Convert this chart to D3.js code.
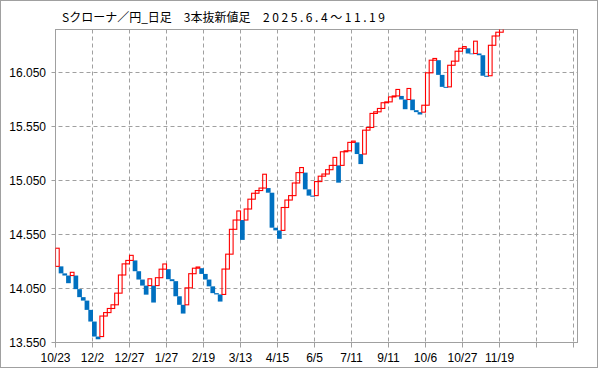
<!DOCTYPE html>
<html>
<head>
<meta charset="utf-8">
<script src="https://cdn.jsdelivr.net/npm/d3@7"></script>
<style>
  body { margin: 0; background: #fff; }
  text { font-family: "Liberation Sans", Arial, sans-serif; }
</style>
</head>
<body>
<svg id="chart"></svg>
<script>
// Title and axis labels
const chartTitle = "Sクローナ／円_日足　3本抜新値足";
const chartPeriod = "2025.6.4〜11.19";
const yTicks = [13.55, 14.05, 14.55, 15.05, 15.55, 16.05];
const xLabels = ["10/23", "12/2", "12/27", "1/27", "2/19", "3/13", "4/15",
                 "6/5", "7/11", "9/11", "10/6", "10/27", "11/19"];

// Three line break: open of the very first brick, then the close of each brick
const firstOpen = 14.255;
const closes = [
  14.423, 14.19, 14.17, 14.099, 14.20, 14.044, 13.97, 13.938, 13.852, 13.744,
  13.605, 13.58, 13.795, 13.827, 13.865, 13.899, 14.007, 14.175, 14.278, 14.31,
  14.357, 14.21, 14.133, 14.077, 13.993, 14.14, 13.92, 14.15, 14.229, 14.277,
  14.136, 14.118, 13.978, 13.899, 13.818, 14.056, 14.187, 14.238, 14.249, 14.185,
  14.133, 14.07, 14.007, 13.995, 13.929, 14.23, 14.368, 14.598, 14.684, 14.768,
  14.50, 14.786, 14.877, 14.932, 14.957, 14.98, 15.108, 14.937, 14.613, 14.588,
  14.51, 14.80, 14.869, 14.91, 15.027, 15.123, 15.17, 14.968, 14.91, 14.90,
  15.04, 15.09, 15.11, 15.15, 15.19, 15.264, 15.03, 15.316, 15.325, 15.403,
  15.415, 15.295, 15.202, 15.516, 15.541, 15.671, 15.686, 15.717, 15.77, 15.778,
  15.824, 15.833, 15.893, 15.80, 15.71, 15.902, 15.701, 15.683, 15.661, 15.747,
  16.047, 16.164, 16.18, 16.028, 15.917, 15.908, 16.117, 16.155, 16.247, 16.274,
  16.29, 16.226, 16.219, 16.34, 16.21, 16.02, 16.01, 16.302, 16.388, 16.423,
  16.457
];

const width = 599, height = 369;
const plot = { left: 55.5, right: 577.5, top: 29.5, bottom: 342.5 };
const bricksPerLabel = 10;
const gridCount = 14;

// Build bricks: a new brick starts at the top of the previous one going up,
// or at its bottom going down
const bricks = [];
closes.forEach((c, i) => {
  let open = firstOpen;
  if (i > 0) {
    const p = bricks[i - 1];
    const pTop = Math.max(p.open, p.close), pBot = Math.min(p.open, p.close);
    open = c > pTop ? pTop : pBot;
  }
  bricks.push({ i: i, open: open, close: c, up: c > open });
});

const svg = d3.select("#chart")
  .attr("width", width)
  .attr("height", height);

// outer frame
svg.append("rect")
  .attr("x", 0.5).attr("y", 0.5)
  .attr("width", width - 2).attr("height", height - 2)
  .attr("fill", "#fff")
  .attr("stroke", "#a0a0a0");

const xScale = d3.scaleLinear()
  .domain([0, gridCount * bricksPerLabel])
  .range([plot.left, plot.left + 37 * gridCount]);

const yScale = d3.scaleLinear()
  .domain([13.55, 16.45])
  .range([342.5, 29.3]);

// gridlines
const gridX = d3.range(0, gridCount * bricksPerLabel + 1, bricksPerLabel);
svg.append("g")
  .selectAll("line")
  .data(gridX.slice(1))
  .enter().append("line")
  .attr("x1", d => xScale(d)).attr("x2", d => xScale(d))
  .attr("y1", plot.top).attr("y2", plot.bottom)
  .attr("stroke", "#a0a0a0")
  .attr("stroke-dasharray", "4,3");

svg.append("g")
  .selectAll("line")
  .data(yTicks.slice(1))
  .enter().append("line")
  .attr("x1", plot.left - 4).attr("x2", plot.right)
  .attr("y1", d => yScale(d)).attr("y2", d => yScale(d))
  .attr("stroke", "#a0a0a0")
  .attr("stroke-dasharray", "4,3");

// tick marks
svg.append("g")
  .selectAll("line")
  .data(gridX)
  .enter().append("line")
  .attr("x1", d => xScale(d)).attr("x2", d => xScale(d))
  .attr("y1", plot.bottom).attr("y2", plot.bottom + 5)
  .attr("stroke", "#a0a0a0");

svg.append("line")
  .attr("x1", plot.left - 4).attr("x2", plot.left)
  .attr("y1", yScale(yTicks[0])).attr("y2", yScale(yTicks[0]))
  .attr("stroke", "#a0a0a0");

// plot frame
svg.append("rect")
  .attr("x", plot.left).attr("y", plot.top)
  .attr("width", plot.right - plot.left)
  .attr("height", plot.bottom - plot.top)
  .attr("fill", "none")
  .attr("stroke", "#a0a0a0");

// clip for the bricks
svg.append("clipPath").attr("id", "plotClip")
  .append("rect")
  .attr("x", plot.left).attr("y", plot.top)
  .attr("width", plot.right - plot.left)
  .attr("height", plot.bottom - plot.top);

const brickW = xScale(1) - xScale(0);
const g = svg.append("g").attr("clip-path", "url(#plotClip)");

// down bricks: filled blue
g.selectAll("rect.down")
  .data(bricks.filter(d => !d.up))
  .enter().append("rect")
  .attr("class", "down")
  .attr("x", d => xScale(d.i) - 0.5)
  .attr("width", brickW + 1)
  .attr("y", d => yScale(d.open))
  .attr("height", d => yScale(d.close) - yScale(d.open))
  .attr("fill", "#0070c0");

// up bricks: red outline
g.selectAll("rect.up")
  .data(bricks.filter(d => d.up))
  .enter().append("rect")
  .attr("class", "up")
  .attr("x", d => xScale(d.i))
  .attr("width", brickW)
  .attr("y", d => yScale(d.close))
  .attr("height", d => yScale(d.open) - yScale(d.close))
  .attr("fill", "none")
  .attr("stroke", "#ff0000")
  .attr("stroke-width", 1.1);

// y labels
svg.append("g")
  .selectAll("text")
  .data(yTicks)
  .enter().append("text")
  .attr("x", 46)
  .attr("y", d => yScale(d))
  .attr("dy", "0.35em")
  .attr("text-anchor", "end")
  .attr("font-size", 12)
  .text(d => d3.format(".3f")(d));

// x labels
svg.append("g")
  .selectAll("text")
  .data(xLabels)
  .enter().append("text")
  .attr("x", (d, k) => xScale(k * bricksPerLabel))
  .attr("y", 361.5)
  .attr("text-anchor", "middle")
  .attr("font-size", 12)
  .text(d => d);

// title
svg.append("text")
  .attr("x", 62)
  .attr("y", 22)
  .attr("font-size", 12)
  .style("font-family", "'Noto Sans CJK JP', sans-serif")
  .text(chartTitle);

svg.append("text")
  .attr("x", 263)
  .attr("y", 22)
  .attr("font-size", 12)
  .attr("textLength", 122)
  .attr("lengthAdjust", "spacing")
  .style("font-family", "'Noto Sans CJK JP', sans-serif")
  .text(chartPeriod);
</script>
</body>
</html>
